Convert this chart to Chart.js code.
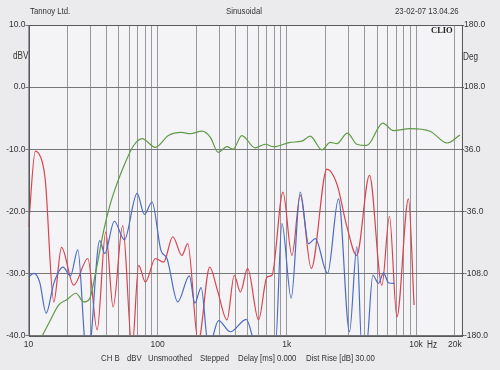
<!DOCTYPE html>
<html>
<head>
<meta charset="utf-8">
<script src="https://cdn.jsdelivr.net/npm/chart.js@4.4.1/dist/chart.umd.min.js"></script>
<style>
  body { margin: 0; background: #ebebee; }
  #wrap { position: relative; width: 500px; height: 370px; }
  .t { position: absolute; font-family: 'Liberation Sans', Arial, sans-serif;
       font-size: 9.5px; line-height: 10px; color: #333; white-space: pre;
       transform: scaleX(0.82); transform-origin: 0 0; }
</style>
</head>
<body>
<div id="wrap">
  <canvas id="myChart" width="500" height="370"></canvas>
  <div class="t" style="left:30px;top:6px">Tannoy Ltd.</div>
  <div class="t" style="left:226px;top:6px">Sinusoidal</div>
  <div class="t" style="left:395px;top:6px">23-02-07 13.04.26</div>
  <div class="t" style="left:13px;top:51px;font-size:10px">dBV</div>
  <div class="t" style="left:463px;top:52px;font-size:10px">Deg</div>
  <div class="t" style="left:431px;top:25px;font-family:'Liberation Serif',serif;font-weight:bold;font-size:8.5px;color:#222;transform:none">CLIO</div>
  <div class="t" style="left:427px;top:340px;font-size:10px">Hz</div>
  <div class="t" style="left:101px;top:353px">CH B</div>
  <div class="t" style="left:127px;top:353px">dBV</div>
  <div class="t" style="left:148px;top:353px">Unsmoothed</div>
  <div class="t" style="left:200px;top:353px">Stepped</div>
  <div class="t" style="left:238px;top:353px">Delay [ms] 0.000</div>
  <div class="t" style="left:306px;top:353px">Dist Rise [dB] 30.00</div>
</div>
<script>
// frequency axis ticks (grid lines) and the ones that get a label
const xTicks = [10,20,30,40,50,60,70,80,90,100,200,300,400,500,600,700,800,900,
                1000,2000,3000,4000,5000,6000,7000,8000,9000,10000,20000];
const xLabels = {10: '10', 100: '100', 1000: '1k', 10000: '10k', 20000: '20k'};

// red trace
const redFreq = [10, 11.3, 12.8, 13.5, 15.7, 18.0, 22.4, 28.8, 34.0, 39.6, 45.2, 53.6, 63.4, 71.3, 80.3, 96, 111, 131, 154, 171,
                 206, 253, 290, 344, 392, 437, 497, 604, 702, 767, 933, 1095, 1270, 1545, 2043, 2442, 2920, 3473, 4364, 5444,
                 6230, 7110, 8740, 9660];
const redDb = [-22.5, -10.3, -12.1, -15, -34.6, -25.8, -31.9, -27.6, -39.1, -23.3, -35.4, -22.3, -42, -28.7, -31.4, -27.6, -28.2, -24.1, -27.1, -25.2,
               -41, -29, -32.7, -37.5, -30.3, -33, -29.2, -37.5, -30.6, -30.3, -16.9, -27.1, -17.4, -29.2, -13.2, -15.6, -22.5, -27.1, -14.2, -31.9,
               -20.8, -37, -18, -35.1];

// blue trace
const blueFreq = [10, 11.0, 12.2, 13.7, 15.7, 18.5, 21.1, 24.1, 27.6, 29.1, 35.6, 38.9, 46.2, 55.2, 69.3, 78.9, 90.5, 106, 118, 143,
                  176, 194, 217, 248, 296, 365, 485, 587, 813, 916, 1081, 1270, 1473, 1660, 2067, 2512, 3055, 3487, 3810, 4115,
                  4634, 5120, 5600, 6120, 6810];
const blueDb = [-30.6, -30.0, -31.4, -36.4, -31.6, -29.0, -30.4, -26.2, -42, -43, -24.7, -26.8, -21.6, -24.6, -17.1, -20.5, -18.5, -26.3, -27.6, -34.6,
                -30.4, -34.8, -32.3, -42, -37.6, -39.4, -37.4, -42, -42, -22, -34, -16.9, -25.2, -24.4, -30, -18, -39.4, -25.7, -42, -42,
                -30.3, -31.6, -29.9, -31.5, -31.6];

// green trace
const greenFreq = [12.6, 14.8, 17.1, 19.9, 23.3, 26.8, 29.7, 33.0, 38.2, 43.0, 48.5, 56.3, 65.2, 75.7, 96, 121, 153, 179, 220, 256,
                   294, 344, 383, 448, 570, 681, 789, 1062, 1309, 1518, 1868, 2165, 2439, 2946, 3483, 4160, 5530, 6690, 9000, 12850,
                   17400, 21900];
const greenDb = [-40.3, -37.5, -35.1, -34.2, -33.2, -34.6, -34.1, -30, -23.1, -18.8, -15.5, -12.1, -9.4, -8.3, -9.7, -7.8, -7.3, -7.5, -7.1, -8.1,
                 -10.5, -9.6, -10, -7.8, -9.8, -9.2, -9.6, -8.9, -8.7, -7.9, -10.1, -8.9, -9.1, -7.4, -9.2, -9.4, -5.8, -7, -6.7, -7.1,
                 -9, -7.7];

const FONT = "'Liberation Sans', Arial, sans-serif";

function pts(f, v) {
    return f.map((el, i) => ({x: el, y: v[i]}));
}

function trace(f, v, color) {
    return {
        data: pts(f, v),
        borderColor: color,
        borderWidth: 1.2,
        pointRadius: 0,
        fill: false,
        cubicInterpolationMode: 'monotone',
        clip: 0,
        yAxisID: 'y'
    };
}

const plotBg = {
    id: 'plotBg',
    beforeDraw(chart) {
        const a = chart.chartArea, ctx = chart.ctx;
        ctx.save();
        ctx.fillStyle = '#f4f4f6';
        ctx.fillRect(a.left, a.top, a.right - a.left, a.bottom - a.top);
        ctx.restore();
    },
    afterDraw(chart) {
        const a = chart.chartArea, ctx = chart.ctx;
        ctx.save();
        ctx.strokeStyle = '#5a5a5e';
        ctx.lineWidth = 1;
        ctx.strokeRect(Math.round(a.left) + 0.5, Math.round(a.top) + 0.5,
                       Math.round(a.right - a.left), Math.round(a.bottom - a.top));
        ctx.restore();
    }
};

const config = {
    type: 'line',
    data: {
        datasets: [
            trace(greenFreq, greenDb, '#5f9a48'),
            trace(blueFreq, blueDb, '#4a6cc2'),
            trace(redFreq, redDb, '#d8434e')
        ]
    },
    options: {
        responsive: false,
        animation: false,
        devicePixelRatio: 1,
        layout: {padding: {top: 25, left: 0, right: 0, bottom: 0}},
        plugins: {legend: {display: false}, tooltip: {enabled: false}},
        scales: {
            x: {
                type: 'logarithmic',
                min: 10,
                max: 22300,
                afterBuildTicks: s => { s.ticks = xTicks.map(v => ({value: v})); },
                afterFit: s => { s.height = 34.5; },
                ticks: {
                    autoSkip: false, maxRotation: 0, minRotation: 0,
                    callback: v => xLabels[v] || '',
                    color: '#333', padding: 4,
                    font: {family: FONT, size: 8.5}
                },
                grid: {color: '#98989d', lineWidth: 1, drawTicks: false},
                border: {display: false}
            },
            y: {
                position: 'left',
                min: -40,
                max: 10,
                afterFit: s => { s.width = 28.5; },
                ticks: {
                    stepSize: 10,
                    callback: v => v.toFixed(1),
                    color: '#333', padding: 0,
                    font: {family: FONT, size: 8.5}
                },
                grid: {color: '#76767a', lineWidth: 1, tickLength: 3},
                border: {display: false}
            },
            y2: {
                position: 'right',
                min: -180,
                max: 180,
                afterFit: s => { s.width = 39; },
                ticks: {
                    stepSize: 72,
                    callback: v => v.toFixed(1),
                    color: '#333', padding: 0,
                    font: {family: FONT, size: 8.5}
                },
                grid: {drawOnChartArea: false, color: '#5a5a5e', tickLength: 3},
                border: {display: false}
            }
        }
    },
    plugins: [plotBg]
};

const myChart = new Chart(document.getElementById('myChart'), config);
</script>
</body>
</html>
